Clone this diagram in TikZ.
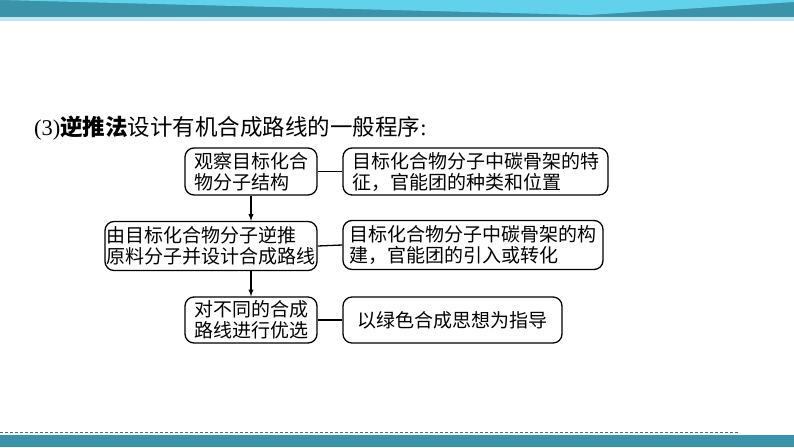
\documentclass[tikz,border=0pt]{standalone}
\usepackage{fontspec}
\setmainfont{Liberation Serif}
\newfontfamily\cjk{Noto Sans CJK SC}
\usetikzlibrary{arrows}
\definecolor{bandteal}{RGB}{58,147,168}
\definecolor{bandcyan}{RGB}{98,210,236}
\definecolor{bandlight}{RGB}{190,230,239}
\definecolor{dashteal}{RGB}{46,120,135}
\begin{document}
\begin{tikzpicture}[x=1pt,y=-1pt,
    box/.style={draw,line width=1.3pt,rounded corners=9pt,align=left,inner sep=1pt,
      font=\cjk\fontsize{19}{21}\selectfont},
    link/.style={line width=1.3pt}]
    \useasboundingbox (0,0) rectangle (794,447);
    % top band
    \fill[bandteal] (0,0) rectangle (794,17);
    \fill[bandcyan] (0,0) -- (588,15) -- (794,2) -- (794,0) -- cycle;
    \fill[bandlight] (0,17) rectangle (794,21);
    % bottom band
    \draw[dashteal,line width=1pt,dash pattern=on 3pt off 2pt] (0,432) -- (739,432);
    \fill[bandteal] (0,435) rectangle (794,447);
    % title
    \node[anchor=west,inner sep=0pt,font=\fontsize{22.5}{24}\selectfont] (title) at (34,128)
      {(3){\cjk\bfseries 逆推法}{\cjk 设计有机合成路线的一般程序}:};
    % left column
    \node[box,minimum width=132pt,minimum height=47pt] (obs) at (251,171.5) {观察目标化合\\物分子结构};
    \node[box,minimum width=212pt,minimum height=49pt] (design) at (211,246) {由目标化合物分子逆推\\原料分子并设计合成路线};
    \node[box,minimum width=132pt,minimum height=46pt] (opt) at (251,320) {对不同的合成\\路线进行优选};
    % right column
    \node[box,minimum width=265pt,minimum height=47pt] (feat) at (475.5,171.5) {目标化合物分子中碳骨架的特\\征，官能团的种类和位置};
    \node[box,minimum width=260pt,minimum height=49pt] (build) at (473,245) {目标化合物分子中碳骨架的构\\建，官能团的引入或转化};
    \node[box,minimum width=219pt,minimum height=46pt] (green) at (452.5,320) {以绿色合成思想为指导};
    % arrows
    \draw[link,->,>=latex] (obs.south) -- (obs.south |- design.north);
    \draw[link,->,>=latex] (design.south -| opt.north) -- (opt.north);
    % links
    \draw[link] (obs.east) -- (feat.west);
    \draw[link] (design.east) -- (build.west);
    \draw[link] (opt.east) -- (green.west);
\end{tikzpicture}
\end{document}
